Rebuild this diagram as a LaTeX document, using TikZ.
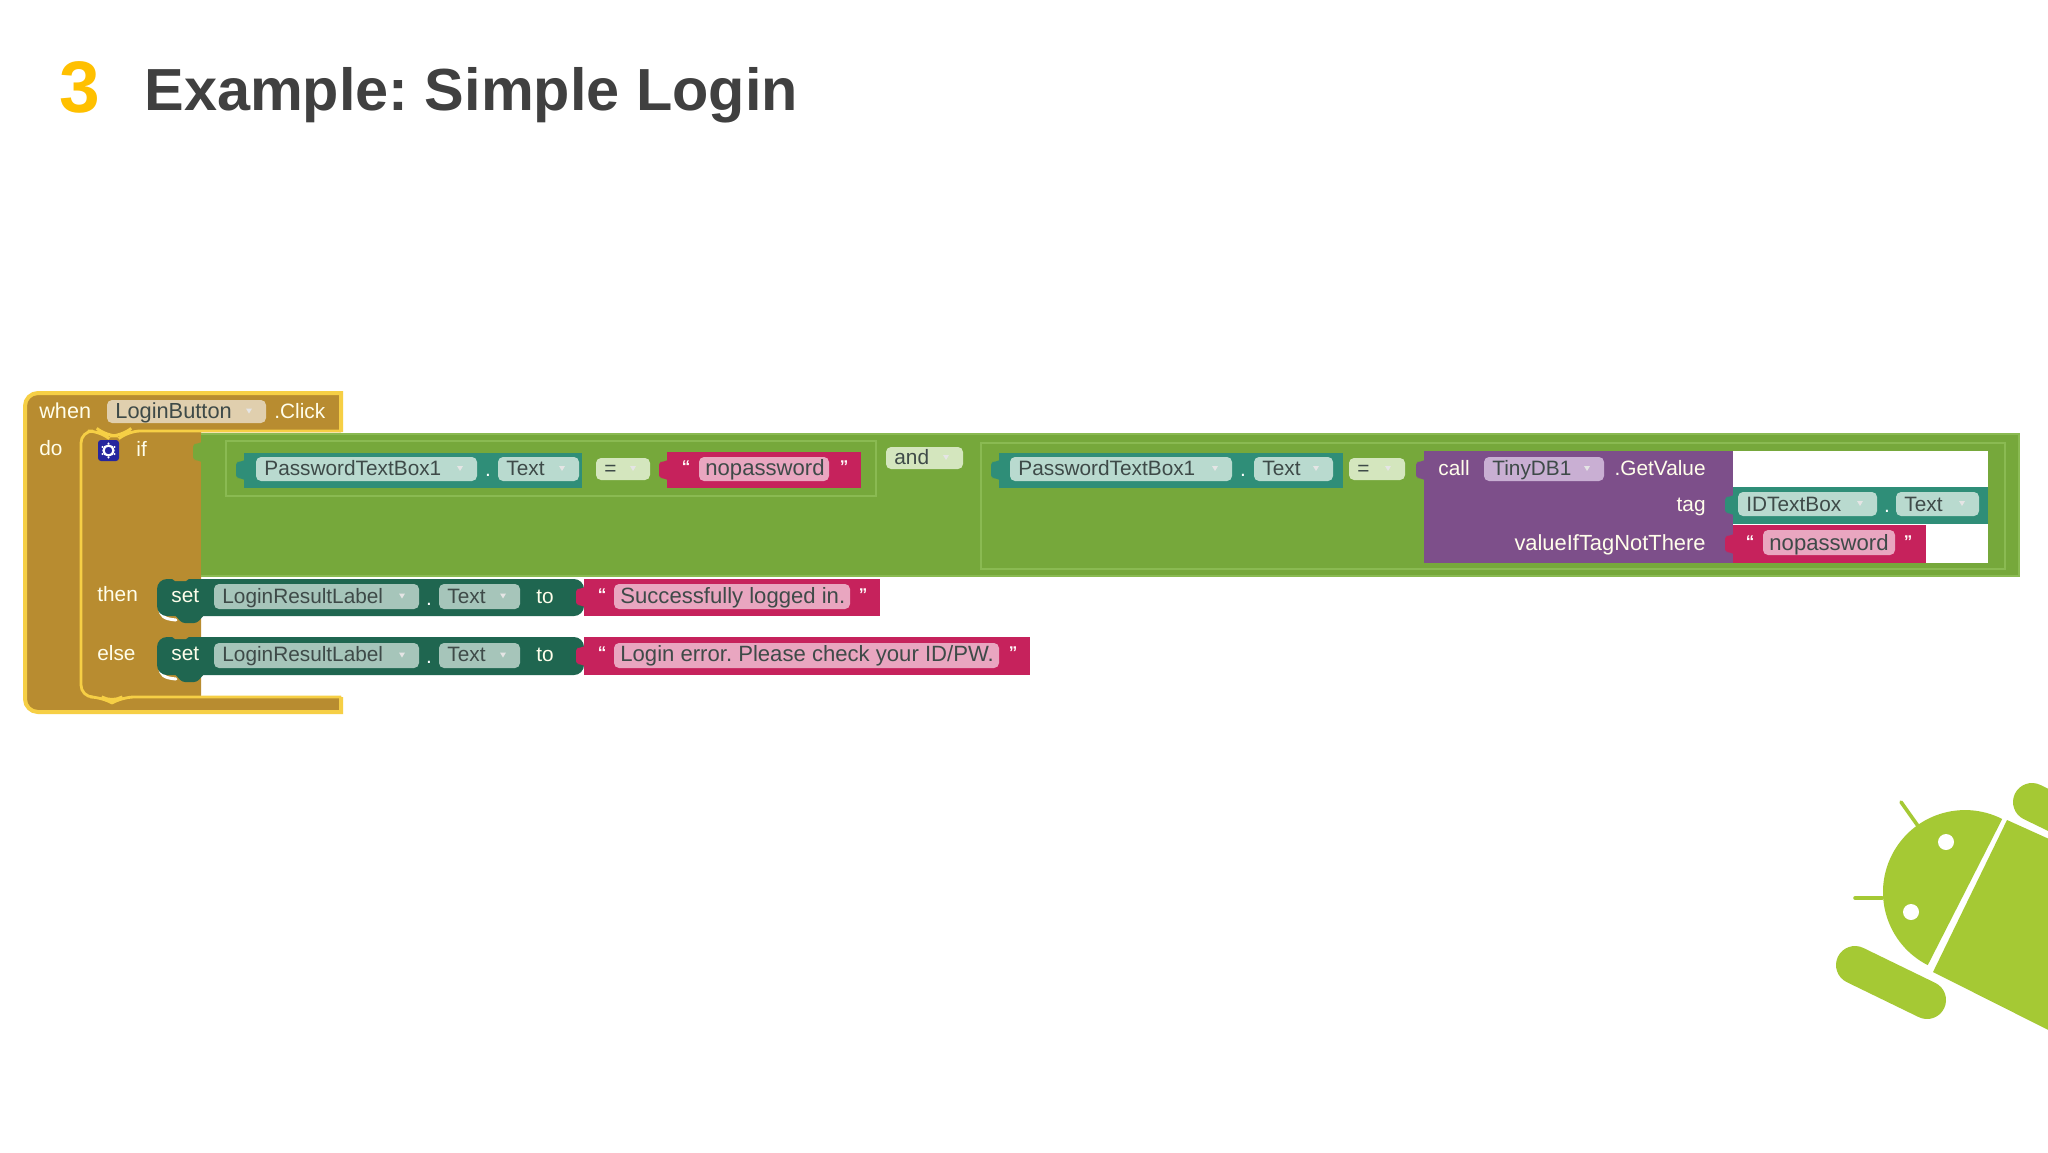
\documentclass[tikz,border=0pt]{standalone}
\usepackage{fontspec}
\setmainfont{Liberation Sans}
\definecolor{hat}{HTML}{B88C30}
\definecolor{hatline}{HTML}{F6CF45}
\definecolor{hatfield}{HTML}{E0CFAE}
\definecolor{logic}{HTML}{76A83B}
\definecolor{logicline}{HTML}{8ABA52}
\definecolor{logicfield}{HTML}{D4E6BE}
\definecolor{teal}{HTML}{2F8E78}
\definecolor{tealfield}{HTML}{B9DACF}
\definecolor{setgreen}{HTML}{1F6650}
\definecolor{setfield}{HTML}{A6C5BA}
\definecolor{str}{HTML}{C6225C}
\definecolor{strfield}{HTML}{E9A6C0}
\definecolor{proc}{HTML}{7D4F8A}
\definecolor{procfield}{HTML}{C9AFD3}
\definecolor{andro}{HTML}{A5C934}
\definecolor{titlegray}{HTML}{404040}
\definecolor{titleorange}{HTML}{FFC000}
\definecolor{fieldtext}{HTML}{3E4A48}
\tikzset{
  x=0.5pt,y=-0.5pt,
  ftext/.style={anchor=base west,inner sep=0pt,yshift=0.5pt,text=fieldtext,font=\fontsize{10.4}{12}\selectfont},
  stext/.style={ftext,font=\fontsize{11.05}{12}\selectfont},
  wtext/.style={anchor=base west,inner sep=0pt,yshift=0.5pt,text=white!92!yellow,font=\fontsize{10.4}{12}\selectfont},
  rtext/.style={wtext,anchor=base east},
  qtext/.style={anchor=base,inner sep=0pt,yshift=2pt,text=white!90!pink,font=\fontsize{8.5}{10}\bfseries\selectfont},
  dot/.style={anchor=base,inner sep=0pt,text=white,font=\fontsize{10.4}{12}\selectfont},
  androline/.style={draw=andro,line cap=round},
}
% name, x1, y1, x2, y2, fill, baseline, text
\newcommand\fld[8]{%
  \fill[#6,rounded corners=2.5pt] (#2,#3) rectangle (#4,#5);
  \node[ftext] (#1) at (#2+8,#7) {#8};
  \fill[white!80!gray] (#4-20,{(#3+#5)/2-3}) -- (#4-14,{(#3+#5)/2-3}) -- (#4-17,{(#3+#5)/2+2}) -- cycle;
}
% text field of a string block: it has no drop-down mark
\newcommand\sfld[8]{%
  \fill[#6,rounded corners=2.5pt] (#2,#3) rectangle (#4,#5);
  \node[stext] (#1) at (#2+6,#7) {#8};
}
\newcommand\tabshape[3]{\fill[#3,rounded corners=1.5pt] (#1+3,#2-11) -- (#1-4,#2-8) -- (#1-8,#2-8) -- (#1-8,#2+8) -- (#1-4,#2+8) -- (#1+3,#2+11) -- cycle;}
\newcommand\setblock[2]{%
  \draw[white,line width=1.5pt,line cap=round] (160,#2-8) .. controls (160,#2) and (164,#2+3) .. (176,#2+4);
  \fill[setgreen,rounded corners=5pt] (584,#1) -- (157,#1) -- (157,#2) -- (584,#2) -- cycle;
  \fill[setgreen,rounded corners=1.5pt] (174,#2-2) -- (182,#2+7) -- (197,#2+7) -- (205,#2-2) -- cycle;
  \fill[hat] (171,#1-1) -- (175,#1+2) -- (186,#1+2) -- (190,#1-1) -- cycle;
}
\begin{document}
\frenchspacing
\begin{tikzpicture}
\useasboundingbox (0,0) rectangle (2048,1152);
\fill[white] (0,0) rectangle (2048,1152);

% title
\node[anchor=base west,inner sep=0pt,text=titleorange,font=\fontsize{36.5}{42}\bfseries\selectfont] (num) at (59,112) {3};
\node[anchor=base west,inner sep=0pt,text=titlegray,font=\fontsize{29.7}{34}\bfseries\selectfont] (title) at (144,110) {Example: Simple Login};

% event block
\fill[hat] (341,393) -- (38,393) arc[start angle=-90,end angle=-180,radius=13] -- (25,699) arc[start angle=180,end angle=90,radius=13] -- (341,712) -- (341,696) -- (201,696) -- (201,432) -- (341,432) -- cycle;
\draw[hatline,line width=2pt] (341,432) -- (341,393) -- (38,393) arc[start angle=-90,end angle=-180,radius=13] -- (25,699) arc[start angle=180,end angle=90,radius=13] -- (341,712) -- (341,697);
\draw[hatline,line width=1.4pt,rounded corners=6pt] (341,431) -- (128,431) -- (122,436) -- (106,436) -- (100,431) -- (81,431) -- (81,697) -- (102,697) -- (112,703) -- (122,697) -- (341,697);

% logic block
\fill[logic] (201,434) rectangle (2019,576);
\draw[logicline,line width=0.8pt] (201,434) -- (2019,434) -- (2019,576) -- (201,576);
\tabshape{201}{452}{logic}
\draw[logicline,line width=0.6pt] (876,441) -- (226,441) -- (226,496) -- (876,496) -- cycle;
\draw[logicline,line width=0.6pt] (981,443) rectangle (2005,569);

% white socket of the right operand
\fill[white] (1733,451) rectangle (1988,563);

% left comparison
\fill[teal] (244,453) rectangle (582,488);
\tabshape{244}{470}{teal}
\fld{pw1}{256}{457}{477}{481}{tealfield}{476}{PasswordTextBox1}
\node[dot] (pw1dot) at (488,476) {.};
\fld{pw1t}{498}{457}{579}{481}{tealfield}{476}{Text}
\fld{eq1}{596}{458}{650}{480}{logicfield}{476}{=}
\fill[str] (667,452) rectangle (861,488);
\tabshape{667}{470}{str}
\node[qtext] (q1) at (686,476) {“};
\sfld{np1}{699}{457}{829}{481}{strfield}{476}{nopassword}
\node[qtext] (q2) at (844,476) {”};
\fld{andf}{886}{447}{963}{469}{logicfield}{465}{and}

% right comparison
\fill[teal] (999,453) rectangle (1343,488);
\tabshape{999}{470}{teal}
\fld{pw2}{1010}{457}{1232}{481}{tealfield}{476}{PasswordTextBox1}
\node[dot] (pw2dot) at (1243,476) {.};
\fld{pw2t}{1254}{457}{1333}{481}{tealfield}{476}{Text}
\fld{eq2}{1349}{458}{1405}{480}{logicfield}{476}{=}

% procedure call
\fill[proc] (1424,451) rectangle (1733,563);
\tabshape{1424}{470}{proc}
\node[wtext] (call) at (1438,476) {call};
\fld{tiny}{1484}{457}{1604}{481}{procfield}{476}{TinyDB1}
\node[rtext] (getv) at (1706,476) {.GetValue};
\node[rtext] (tag) at (1706,512) {tag};
\node[rtext,font=\fontsize{10.95}{12}\selectfont] (vtag) at (1706,551) {valueIfTagNotThere};

\fill[teal] (1733,487) rectangle (1988,524);
\tabshape{1733}{505}{teal}
\fld{idb}{1738}{492}{1877}{516}{tealfield}{512}{IDTextBox}
\node[dot] (idbdot) at (1887,512) {.};
\fld{idt}{1896}{492}{1979}{516}{tealfield}{512}{Text}
\fill[str] (1733,525) rectangle (1926,563);
\tabshape{1733}{544}{str}
\node[qtext] (q3) at (1750,551) {“};
\sfld{np2}{1763}{530}{1895}{555}{strfield}{551}{nopassword}
\node[qtext] (q4) at (1908,551) {”};

% event header
\node[wtext,font=\fontsize{10.8}{12}\selectfont] (when) at (39,419) {when};
\fld{btn}{107}{400}{266}{423}{hatfield}{419}{\fontsize{10.9}{12}\selectfont LoginButton}
\node[wtext] (click) at (274,419) {.Click};
\node[wtext] (do) at (39,456) {do};
\node[wtext] (ifl) at (136,457) {if};
\node[wtext] (thenl) at (97,602) {then};
\node[wtext] (elsel) at (97,661) {else};

% mutator icon
\fill[blue!55!black!85!white,rounded corners=1.5pt] (98,440) rectangle (119,461);
\draw[white,line width=1.1pt] (108.5,450.5) circle[radius=5];
\fill[white] (108.5,443.5) circle[radius=1.2] (108.5,457.5) circle[radius=1.2] (102.5,447) circle[radius=1.2] (114.5,447) circle[radius=1.2] (102.5,454) circle[radius=1.2] (114.5,454) circle[radius=1.2];

% then
\setblock{579}{616}
\node[wtext] (set1) at (171,603.5) {set};
\fld{res1}{214}{584}{419}{609}{setfield}{604}{LoginResultLabel}
\node[dot] (res1dot) at (429,605) {.};
\fld{res1t}{439}{584}{520}{609}{setfield}{604}{Text}
\node[wtext] (to1) at (536,604) {to};
\fill[str] (584,579) rectangle (880,616);
\tabshape{584}{597}{str}
\node[qtext] (q5) at (602,604) {“};
\sfld{ok}{614}{584}{850}{609}{strfield}{604}{Successfully logged in.}
\node[qtext] (q6) at (863,604) {”};

% else
\setblock{637}{675}
\node[wtext] (set2) at (171,661.5) {set};
\fld{res2}{214}{643}{419}{668}{setfield}{662}{LoginResultLabel}
\node[dot] (res2dot) at (429,663) {.};
\fld{res2t}{439}{643}{520}{668}{setfield}{662}{Text}
\node[wtext] (to2) at (536,662) {to};
\fill[str] (584,637) rectangle (1030,675);
\tabshape{584}{656}{str}
\node[qtext] (q7) at (602,662) {“};
\sfld{err}{614}{643}{999}{668}{strfield}{662}{Login error. Please check your ID/PW.}
\node[qtext] (q8) at (1013,662) {”};

% android
\begin{scope}
\clip (0,0) rectangle (2048,1152);
\fill[andro] (2002.2,819) arc[start angle=-63,end angle=-243,radius=82] -- cycle;
\fill[white] (1946,842) circle[radius=8] (1911,912) circle[radius=8];
\draw[androline,line width=1.8pt] (1918,826) -- (1901,802);
\draw[androline,line width=1.8pt] (1882,898) -- (1855,898);
\fill[andro] (2007,820) -- (2100,862) -- (2100,1056) -- (1933,972) -- cycle;
\draw[androline,line width=19pt] (1855,965) -- (1927,1000);
\draw[androline,line width=19pt] (2032,802) -- (2100,835);
\end{scope}
\end{tikzpicture}
\end{document}
